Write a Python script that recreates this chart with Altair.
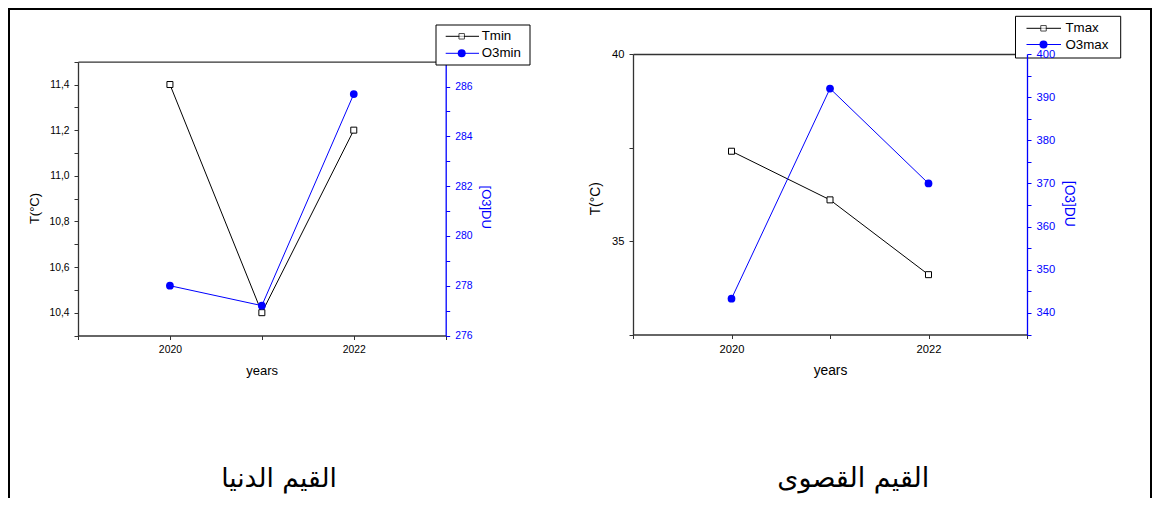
import altair as alt
import pandas as pd

# ---- data ----
years = [2020, 2021, 2022]
tmin = [11.4, 10.4, 11.2]
o3min = [278.0, 277.2, 285.7]
tmax = [37.4, 36.1, 34.1]
o3max = [343.3, 392.0, 370.0]

legend_min = ["Tmin", "O3min"]
legend_max = ["Tmax", "O3max"]
caption_min = "القيم الدنيا"
caption_max = "القيم القصوى"

x_ticks = [2019, 2020, 2021, 2022, 2023]
tmin_ticks = [10.3, 10.4, 10.5, 10.6, 10.7, 10.8, 10.9, 11.0, 11.1, 11.2, 11.3, 11.4, 11.5]
o3min_ticks = list(range(276, 288))
tmax_ticks = [32.5, 35, 37.5, 40]
o3max_ticks = list(range(335, 405, 5))

# ---- styling / layout ----
W, H = 1144, 490
BLUE = "#0000ff"
AX = "#333333"
FONT = "Liberation Sans"
AR_FONT = "DejaVu Sans"

df_min = pd.DataFrame({"year": years, "Tmin": tmin, "O3min": o3min})
df_max = pd.DataFrame({"year": years, "Tmax": tmax, "O3max": o3max})
dummy = pd.DataFrame({"k": [0]})

YEAR_LABEL = "(datum.value == 2020 || datum.value == 2022) ? '' + datum.value : ''"


def axis(orient, offset, values, label_expr, color, fs, title=None, tx=0, ty=0, tfs=12.5, angle=0, zindex=0):
    kw = dict(
        orient=orient, offset=offset, values=values, labelExpr=label_expr, grid=False,
        domainColor=color, domainWidth=1.3, tickColor=color, tickSize=4, tickWidth=1,
        labelPadding=5, labelFont=FONT, labelFontSize=fs, labelColor=color if color == BLUE else "#000000",
        labelOverlap=False, labelFlush=False, zindex=zindex,
    )
    if title is not None:
        kw.update(title=title, titleFont=FONT, titleFontSize=tfs, titleFontWeight="normal",
                  titleColor=color if color == BLUE else "#000000", titleX=tx, titleY=ty,
                  titleAlign="center", titleBaseline="middle", titleAngle=angle)
    else:
        kw.update(title=None)
    return alt.Axis(**kw)


def frame_axis(orient, offset):
    return alt.Axis(orient=orient, offset=offset, grid=False, ticks=False, labels=False,
                    domainColor=AX, domainWidth=1.3, title=None)


def sc(domain, rng):
    return alt.Scale(domain=domain, range=rng, nice=False, zero=False)


sq_pt = alt.OverlayMarkDef(shape="square", filled=True, fill="white", stroke="black", strokeWidth=1, size=36)
ci_pt = alt.OverlayMarkDef(shape="circle", filled=True, color=BLUE, size=60)

# ---- left panel (minimum values) ----
LX = [70, 437.7]
LY = [327.5, 53.7]
left_t = alt.Chart(df_min).mark_line(color="black", strokeWidth=1, point=sq_pt).encode(
    x=alt.X("year:Q", scale=sc([2019, 2023], LX),
            axis=axis("bottom", -(H - LY[0]), x_ticks, YEAR_LABEL, AX, 10.4, "years", 253.7, 35.2, 13)),
    y=alt.Y("Tmin:Q", scale=sc([10.3, 11.5], LY),
            axis=axis("left", -LX[0], tmin_ticks,
                      "round(datum.value*10) % 2 == 0 ? replace(format(datum.value, '.1f'), '.', ',') : ''",
                      AX, 10.3, "T(°C)", -43.7, 200, 13, -90)),
)
left_o3 = alt.Chart(df_min).mark_line(color=BLUE, strokeWidth=1, point=ci_pt).encode(
    x=alt.X("year:Q", scale=sc([2019, 2023], LX), axis=frame_axis("top", -LY[1])),
    y=alt.Y("O3min:Q", scale=sc([276, 287], LY),
            axis=axis("right", -(W - LX[1]), o3min_ticks, "datum.value % 2 == 0 ? '' + datum.value : ''",
                      BLUE, 10.4, "[O3]DU", 39.3, 198.7, 13, 90)),
)

# ---- right panel (maximum values) ----
RX = [625, 1019]
RY = [326.5, 46]
right_t = alt.Chart(df_max).mark_line(color="black", strokeWidth=1, point=sq_pt).encode(
    x=alt.X("year:Q", scale=sc([2019, 2023], RX),
            axis=axis("bottom", -(H - RY[0]), x_ticks, YEAR_LABEL, AX, 11.2, "years", 822, 35.5, 13.8)),
    y=alt.Y("Tmax:Q", scale=sc([32.5, 40], RY),
            axis=axis("left", -RX[0], tmax_ticks, "datum.value % 5 == 0 ? '' + datum.value : ''",
                      AX, 11.2, "T(°C)", -38, 190.3, 13.8, -90)),
)
right_o3 = alt.Chart(df_max).mark_line(color=BLUE, strokeWidth=1, point=ci_pt).encode(
    x=alt.X("year:Q", scale=sc([2019, 2023], RX), axis=frame_axis("top", -RY[1])),
    y=alt.Y("O3max:Q", scale=sc([335, 400], RY),
            axis=axis("right", -(W - RX[1]), o3max_ticks, "datum.value % 10 == 0 ? '' + datum.value : ''",
                      BLUE, 11.2, "[O3]DU", 41.3, 195.3, 13.8, 90, zindex=1)),
)


# ---- legends ----
def legend(names, box, rows, line, mk, tx):
    base = alt.Chart(dummy)
    layers = [base.mark_rect(fill="white", stroke="black", strokeWidth=1).encode(
        x=alt.value(box[0]), x2=alt.value(box[1]), y=alt.value(box[2]), y2=alt.value(box[3]))]
    styles = [("black", "square", 30), (BLUE, "circle", 64)]
    for name, ry, (col, shape, size) in zip(names, rows, styles):
        layers.append(base.mark_rule(color=col, strokeWidth=1).encode(
            x=alt.value(line[0]), x2=alt.value(line[1]), y=alt.value(ry)))
        if shape == "square":
            layers.append(base.mark_point(shape="square", filled=True, fill="white", stroke="black",
                                          strokeWidth=1, size=size).encode(x=alt.value(mk), y=alt.value(ry)))
        else:
            layers.append(base.mark_point(shape="circle", filled=True, color=BLUE, opacity=1,
                                          size=size).encode(x=alt.value(mk), y=alt.value(ry)))
        layers.append(base.mark_text(text=name, align="left", baseline="middle", font=FONT,
                                     fontSize=13.3, color="black").encode(x=alt.value(tx), y=alt.value(ry)))
    return layers


leg_left = legend(legend_min, [428, 522, 17, 57], [28.3, 45.3], [437.7, 471], 453.7, 473.7)
leg_right = legend(legend_max, [1007.5, 1112.7, 8.3, 50], [20.3, 36.5], [1018.5, 1053], 1035.5, 1057.5)

# ---- captions ----
base = alt.Chart(dummy)
cap_l = base.mark_text(text=caption_min, font=AR_FONT, fontSize=26.5, align="center", baseline="middle",
                       color="black").encode(x=alt.value(271), y=alt.value(470.5))
cap_r = base.mark_text(text=caption_max, font=AR_FONT, fontSize=27, align="center", baseline="middle",
                       color="black").encode(x=alt.value(845.3), y=alt.value(470.5))

# ---- outer frame (left, top, right) ----
fr = [
    base.mark_rule(color="black", strokeWidth=2).encode(x=alt.value(1), y=alt.value(0), y2=alt.value(H)),
    base.mark_rule(color="black", strokeWidth=2).encode(x=alt.value(0), x2=alt.value(W), y=alt.value(1)),
    base.mark_rule(color="black", strokeWidth=2).encode(x=alt.value(W - 1), y=alt.value(0), y2=alt.value(H)),
]

chart = alt.layer(
    left_t, left_o3, right_t, right_o3, *leg_left, *leg_right, cap_l, cap_r, *fr
).resolve_scale(x="independent", y="independent").properties(
    width=W, height=H, autosize=alt.AutoSizeParams(type="none"), padding=0
).configure_view(strokeOpacity=0).configure(background="white")

chart.save("out.html", embed_options={"renderer": "svg", "actions": False})
